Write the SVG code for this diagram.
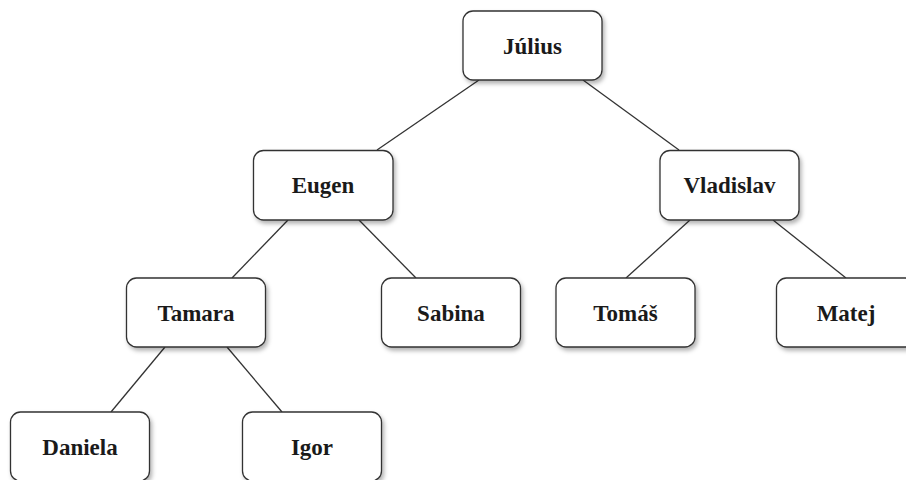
<svg xmlns="http://www.w3.org/2000/svg" width="906" height="480" viewBox="0 0 906 480">
<defs>
<filter id="sh" x="-20%" y="-20%" width="150%" height="160%">
<feDropShadow dx="2" dy="3" stdDeviation="2" flood-color="#000" flood-opacity="0.3"/>
</filter>
<style>
.box{fill:#fff;stroke:#333;stroke-width:1.3;filter:url(#sh)}
.lbl{font-family:"Liberation Serif","Times New Roman",serif;font-weight:bold;font-size:23px;fill:#1a1a1a;text-anchor:middle}
.edge{stroke:#333;stroke-width:1.3;fill:none}
</style>
</defs>
<rect width="906" height="480" fill="#fff"/>
<g id="connectors">
<line class="edge" x1="479" y1="80" x2="377" y2="150"/>
<line class="edge" x1="583" y1="80" x2="679" y2="150"/>
<line class="edge" x1="288" y1="220" x2="232" y2="278"/>
<line class="edge" x1="359" y1="220" x2="416" y2="278"/>
<line class="edge" x1="690" y1="220" x2="626" y2="278"/>
<line class="edge" x1="773" y1="220" x2="846" y2="278"/>
<line class="edge" x1="165" y1="347" x2="111" y2="412"/>
<line class="edge" x1="227" y1="347" x2="282" y2="412"/>
</g>
<g id="julius"><rect class="box" x="463" y="11" width="139" height="69" rx="10"/><text class="lbl" x="532.5" y="54">Július</text></g>
<g id="eugen"><rect class="box" x="253.5" y="150.5" width="139.5" height="69.5" rx="10"/><text class="lbl" x="323" y="193">Eugen</text></g>
<g id="vladislav"><rect class="box" x="660" y="150.5" width="139" height="69.5" rx="10"/><text class="lbl" x="729.5" y="193">Vladislav</text></g>
<g id="tamara"><rect class="box" x="126.5" y="278" width="139" height="69" rx="10"/><text class="lbl" x="196" y="321">Tamara</text></g>
<g id="sabina"><rect class="box" x="381.5" y="278" width="139" height="69" rx="10"/><text class="lbl" x="451" y="321">Sabina</text></g>
<g id="tomas"><rect class="box" x="556" y="278" width="139" height="69" rx="10"/><text class="lbl" x="625.5" y="321">Tomáš</text></g>
<g id="matej"><rect class="box" x="776.5" y="278" width="139" height="69" rx="10"/><text class="lbl" x="846" y="321">Matej</text></g>
<g id="daniela"><rect class="box" x="10.5" y="412" width="139" height="69" rx="10"/><text class="lbl" x="80" y="455">Daniela</text></g>
<g id="igor"><rect class="box" x="242.5" y="412" width="139" height="69" rx="10"/><text class="lbl" x="312" y="455">Igor</text></g>
</svg>
